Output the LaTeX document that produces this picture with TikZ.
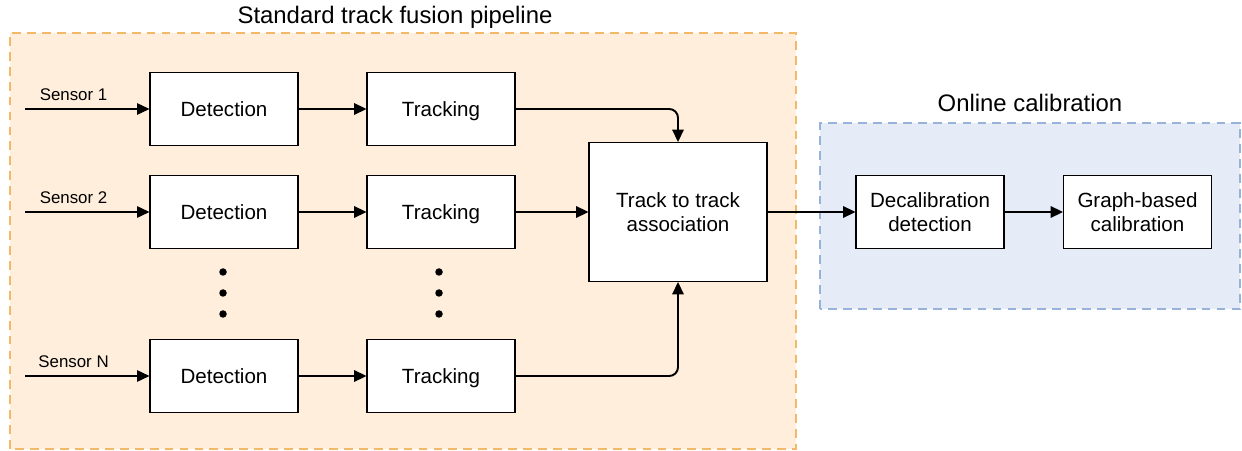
\documentclass[tikz,border=0pt]{standalone}
\usepackage{fontspec}
\setmainfont{Liberation Sans}
\usetikzlibrary{arrows.meta}
\definecolor{orangefill}{HTML}{FFEEDC}
\definecolor{orangeline}{HTML}{F3B868}
\definecolor{bluefill}{HTML}{E5ECF8}
\definecolor{blueline}{HTML}{98B3D9}
\begin{document}
\begin{tikzpicture}[>={Triangle[length=7pt,width=6.5pt]},
  block/.style={rectangle,draw,fill=white,line width=0.6pt,minimum width=2.96cm,minimum height=1.46cm,align=center,inner sep=0pt,text depth=0pt,font=\fontsize{11.7}{13.5}\selectfont},
  flow/.style={->,line width=1.1pt},
  sensor/.style={->,line width=0.6pt},
  group/.style={dash pattern=on 5pt off 3.5pt,line width=1.4pt},
  title/.style={font=\fontsize{13.6}{16}\selectfont}]
\useasboundingbox (0,0) rectangle (24.84,9.0);
% groups
\draw[group,draw=orangeline,fill=orangefill] (0.2,0.02) rectangle (15.92,8.34);
\draw[group,draw=blueline,fill=bluefill] (16.4,2.82) rectangle (24.8,6.54);
\node[title] (stdtitle) at (7.9,8.66) {Standard track fusion pipeline};
\node[title] (caltitle) at (20.6,6.94) {Online calibration};
% blocks
\node[block] (det1) at (4.48,6.82) {Detection};
\node[block] (det2) at (4.48,4.76) {Detection};
\node[block] (detN) at (4.48,1.48) {Detection};
\node[block] (trk1) at (8.82,6.82) {Tracking};
\node[block] (trk2) at (8.82,4.76) {Tracking};
\node[block] (trkN) at (8.82,1.48) {Tracking};
\node[block,minimum width=3.56cm,minimum height=2.78cm] (assoc) at (13.56,4.76) {Track to track\\association};
\node[block] (decal) at (18.6,4.76) {Decalibration\\detection};
\node[block] (graph) at (22.75,4.76) {Graph-based\\calibration};
% dots
\foreach \x in {4.46,8.78}
  \foreach \y in {3.56,3.14,2.72}
    \fill (\x,\y) circle (0.075);
% sensors
\coordinate (s1) at (0.5,6.82);
\coordinate (s2) at (0.5,4.76);
\coordinate (sN) at (0.5,1.48);
\begin{scope}[every node/.style={font=\fontsize{9.6}{11}\selectfont,above,pos=0.39,inner sep=4.5pt}]
\draw[sensor] (s1) -- node {Sensor 1} (det1);
\draw[sensor] (s2) -- node {Sensor 2} (det2);
\draw[sensor] (sN) -- node {Sensor N} (detN);
\end{scope}
\path
    (det1) edge[flow] (trk1)
    (det2) edge[flow] (trk2)
    (detN) edge[flow] (trkN)
    (trk2) edge[flow] (assoc)
    (assoc) edge[flow] (decal)
    (decal) edge[flow] (graph)
         ;
\draw[flow,rounded corners=5pt] (trk1.east) -| (assoc.north);
\draw[flow,rounded corners=5pt] (trkN.east) -| (assoc.south);
\end{tikzpicture}
\end{document}
